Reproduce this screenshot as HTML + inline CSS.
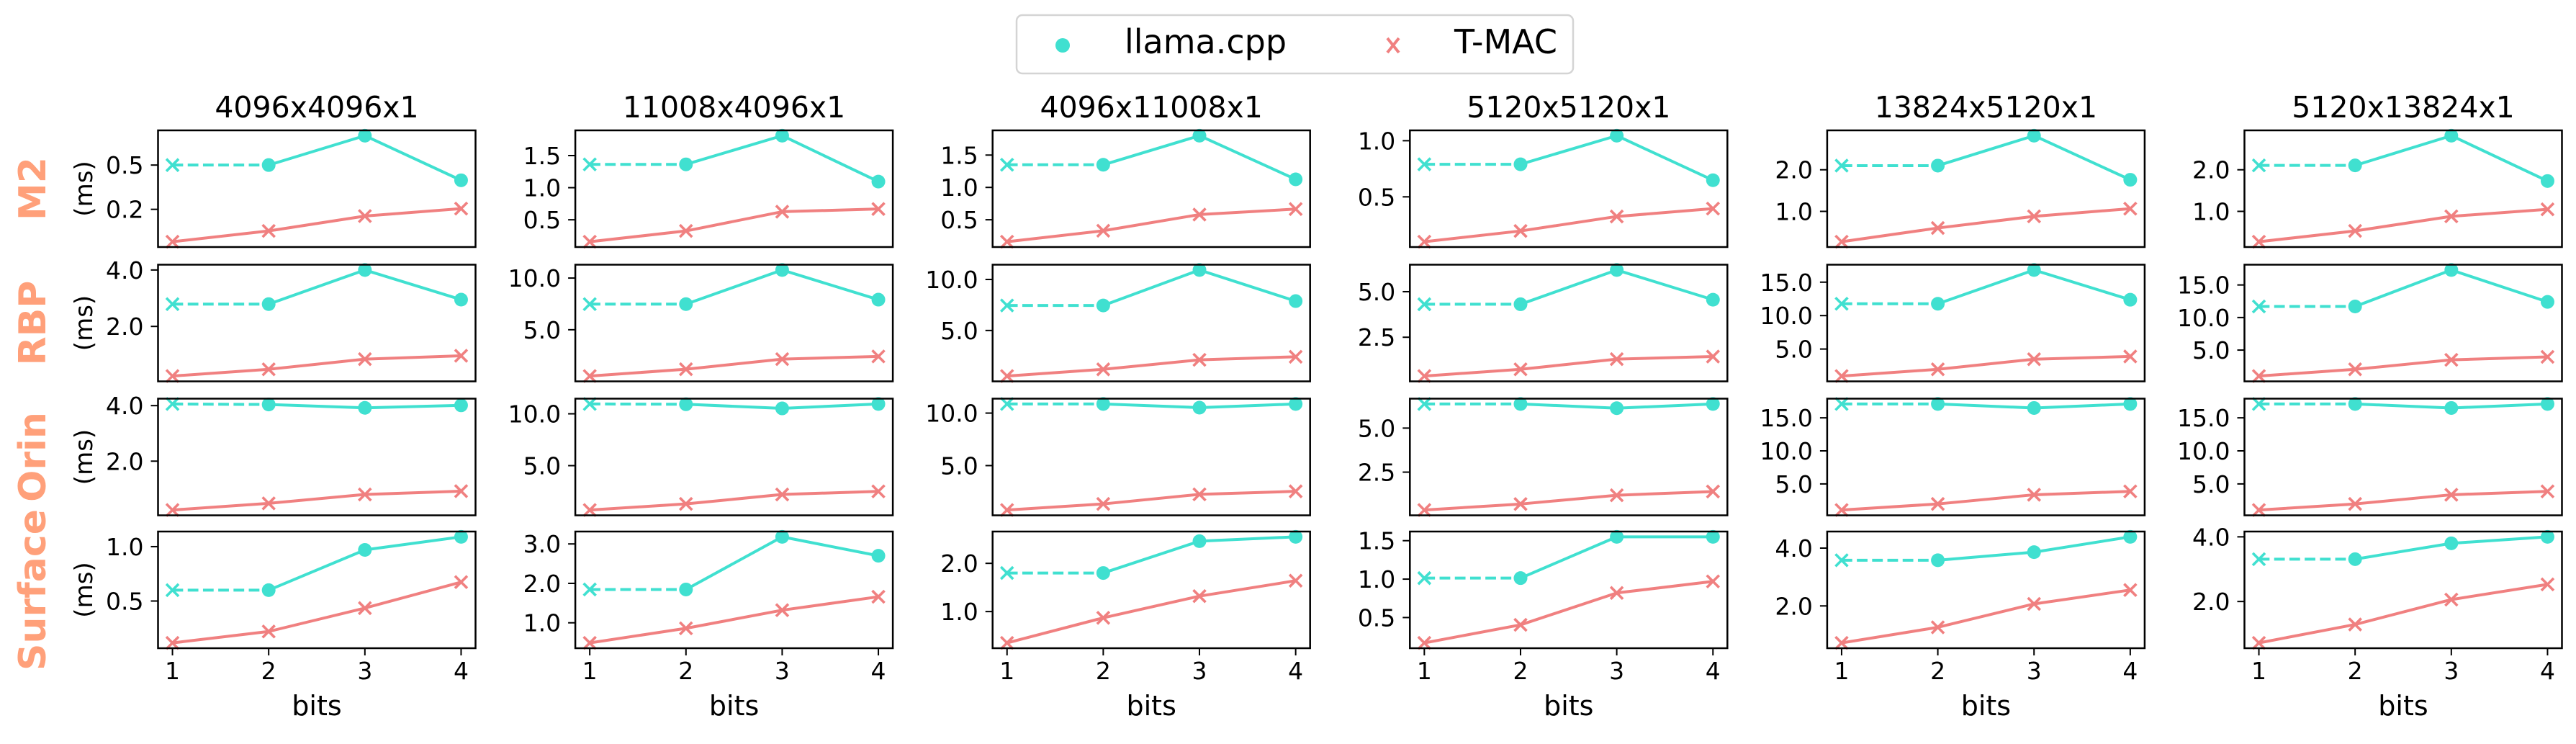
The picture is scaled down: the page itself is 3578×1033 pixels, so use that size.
<!DOCTYPE html>
<html><head><meta charset="utf-8">
<style>
html,body{margin:0;padding:0;background:#fff;}
svg{display:block;font-family:"DejaVu Sans","Liberation Sans",sans-serif;}
</style></head>
<body>
<svg id="fig" width="3578" height="1033" viewBox="0 0 3578 1033" xmlns="http://www.w3.org/2000/svg">
<rect width="3578" height="1033" fill="#fff"/>
<g>
<rect x="1412" y="21" width="773" height="81" rx="8" fill="#fff" stroke="#d4d4d4" stroke-width="2.5"/>
<circle cx="1476" cy="63" r="10" fill="#40E0D0"/>
<text x="1562" y="74" font-size="46">llama.cpp</text>
<g stroke="#F08080" stroke-width="4"><line x1="1927" y1="53" x2="1943" y2="73"/><line x1="1943" y1="53" x2="1927" y2="73"/></g>
<text x="2020" y="74" font-size="46">T-MAC</text>
</g>
<g id="plots"></g>
</svg>
<script>
const bits = [1, 2, 3, 4];
const titles = ["4096x4096x1","11008x4096x1","4096x11008x1","5120x5120x1","13824x5120x1","5120x13824x1"];
const devices = ["M2","RBP","Orin","Surface"];
const xTicks = [1, 2, 3, 4];
const xTickLabels = ["1","2","3","4"];

const llamaM2 = [[0.5,0.5,0.666,0.414],[1.363,1.363,1.81,1.095],[1.35,1.35,1.80,1.125],[0.79,0.79,1.045,0.648],[2.10,2.10,2.82,1.76],[2.105,2.105,2.82,1.73]];
const llamaRBP = [[2.79,2.79,4.0,2.95],[7.48,7.48,10.78,7.91],[7.45,7.45,10.93,7.88],[4.31,4.31,6.19,4.56],[11.77,11.77,16.82,12.37],[11.7,11.7,17.3,12.4]];
const llamaOrin = [[4.06,4.04,3.92,4.01],[10.95,10.92,10.52,10.95],[10.87,10.87,10.52,10.87],[6.37,6.37,6.13,6.37],[17.1,17.1,16.49,17.1],[17.1,17.1,16.49,17.1]];
const llamaSurface = [[0.60,0.60,0.97,1.09],[1.845,1.845,3.18,2.70],[1.80,1.80,2.46,2.55],[1.013,1.013,1.55,1.55],[3.58,3.58,3.86,4.39],[3.31,3.31,3.8,4.0]];

const tmacM2 = [[0.067,0.128,0.212,0.254],[0.158,0.326,0.626,0.668],[0.16,0.33,0.58,0.665],[0.10,0.196,0.325,0.395],[0.27,0.60,0.88,1.065],[0.27,0.53,0.88,1.05]];
const tmacRBP = [[0.24,0.48,0.84,0.96],[0.52,1.18,2.16,2.42],[0.53,1.19,2.12,2.42],[0.37,0.74,1.30,1.44],[0.96,1.97,3.48,3.89],[1.01,2.05,3.5,3.96]];
const tmacOrin = [[0.24,0.48,0.80,0.92],[0.72,1.31,2.22,2.52],[0.77,1.35,2.26,2.55],[0.35,0.69,1.19,1.40],[1.05,1.97,3.36,3.87],[1.05,1.97,3.36,3.87]];
const tmacSurface = [[0.115,0.22,0.435,0.674],[0.49,0.86,1.32,1.66],[0.35,0.87,1.32,1.64],[0.17,0.405,0.82,0.97],[0.72,1.26,2.07,2.55],[0.72,1.29,2.06,2.53]];

const yTicksM2 = [[0.25,0.5],[0.5,1,1.5],[0.5,1,1.5],[0.5,1.0],[1,2],[1,2]];
const yTicksRBP = [[2,4],[5,10],[5,10],[2.5,5],[5,10,15],[5,10,15]];
const yTicksOrin = [[2,4],[5,10],[5,10],[2.5,5],[5,10,15],[5,10,15]];
const yTicksSurface = [[0.5,1.0],[1,2,3],[1,2],[0.5,1,1.5],[2,4],[2,4]];
const yTickLabelsM2 = [["0.2","0.5"],["0.5","1.0","1.5"],["0.5","1.0","1.5"],["0.5","1.0"],["1.0","2.0"],["1.0","2.0"]];
const yTickLabelsRBP = [["2.0","4.0"],["5.0","10.0"],["5.0","10.0"],["2.5","5.0"],["5.0","10.0","15.0"],["5.0","10.0","15.0"]];
const yTickLabelsOrin = [["2.0","4.0"],["5.0","10.0"],["5.0","10.0"],["2.5","5.0"],["5.0","10.0","15.0"],["5.0","10.0","15.0"]];
const yTickLabelsSurface = [["0.5","1.0"],["1.0","2.0","3.0"],["1.0","2.0"],["0.5","1.0","1.5"],["2.0","4.0"],["2.0","4.0"]];

const LLAMA = [llamaM2, llamaRBP, llamaOrin, llamaSurface];
const TMAC = [tmacM2, tmacRBP, tmacOrin, tmacSurface];
const YT = [yTicksM2, yTicksRBP, yTicksOrin, yTicksSurface];
const YTL = [yTickLabelsM2, yTickLabelsRBP, yTickLabelsOrin, yTickLabelsSurface];

const NS = "http://www.w3.org/2000/svg";
const root = document.getElementById("plots");
function mk(tag, attrs, parent) {
  const e = document.createElementNS(NS, tag);
  for (const k in attrs) e.setAttribute(k, attrs[k]);
  (parent || root).appendChild(e);
  return e;
}
const AX_W = 441, AX_H = 162;
const rowTops = [181, 367.5, 553.5, 738];
const CYAN = "#40E0D0", CORAL = "#F08080";

function xMarker(g, x, y, color, name) {
  const m = mk("g", {stroke: color, "stroke-width": 3.6}, g);
  
  
  mk("line", {x1: x-8.5, y1: y-8.5, x2: x+8.5, y2: y+8.5}, m);
  mk("line", {x1: x+8.5, y1: y-8.5, x2: x-8.5, y2: y+8.5}, m);
}

for (let c = 0; c < 6; c++) {
  const left = 219.5 + c * 579.6;
  const xScale = v => left + AX_W * (v - 0.85) / 3.3;
  const t = mk("text", {x: left + AX_W/2, y: 163, "font-size": 41, "text-anchor": "middle"});
  
  
  t.textContent = titles[c];
  for (let r = 0; r < 4; r++) {
    const top = rowTops[r];
    const L = LLAMA[r][c], T = TMAC[r][c];
    const all = L.concat(T);
    const mn = Math.min(...all), mx = Math.max(...all);
    const pad = (mx - mn) * 0.05;
    const y0 = mn - pad, y1 = mx + pad;
    const yScale = v => top + AX_H * (y1 - v) / (y1 - y0);
    const g = mk("g", {});
    
    
    // ticks
    YT[r][c].forEach((tv, i) => {
      const y = yScale(tv);
      const tk = mk("line", {x1: left - 10, x2: left, y1: y, y2: y, stroke: "#000", "stroke-width": 2}, g);
      
      
      const tl = mk("text", {x: left - 20, y: y + 12, "font-size": 33, "text-anchor": "end"}, g);
      
      
      tl.textContent = YTL[r][c][i];
    });
    if (r === 3) {
      xTicks.forEach((xv, i) => {
        const x = xScale(xv);
        const tk = mk("line", {x1: x, x2: x, y1: top + AX_H, y2: top + AX_H + 10, stroke: "#000", "stroke-width": 2}, g);
        
        
        const tl = mk("text", {x: x, y: 943, "font-size": 33, "text-anchor": "middle"}, g);
        
        
        tl.textContent = xTickLabels[i];
      });
      const xl = mk("text", {x: left + AX_W/2, y: 993, "font-size": 38, "text-anchor": "middle"}, g);
      
      
      xl.textContent = "bits";
    }
    if (c === 0) {
      const cy = top + AX_H/2;
      const yl = mk("text", {x: 0, y: 0, "font-size": 34, "text-anchor": "middle", transform: `translate(128,${cy}) rotate(-90)`}, g);
      
      
      yl.textContent = "(ms)";
      const dl = mk("text", {x: 0, y: 0, "font-size": 52, "font-weight": "bold", fill: "#FFA07A", "text-anchor": "middle", transform: `translate(63,${cy}) rotate(-90)`}, g);
      
      
      dl.textContent = devices[r];
    }
    // clip
    const cid = `clip${r}_${c}`;
    const cp = mk("clipPath", {id: cid}, g);
    mk("rect", {x: left - 12, y: top - 12, width: AX_W + 24, height: AX_H + 24}, cp);
    const pg = mk("g", {"clip-path": `url(#${cid})`}, g);
    // llama dashed segment
    const d1 = mk("line", {x1: xScale(bits[0]), y1: yScale(L[0]), x2: xScale(bits[1]), y2: yScale(L[1]), stroke: CYAN, "stroke-width": 4, "stroke-dasharray": "14.8 6.4"}, pg);
    
    
    const lp = bits.slice(1).map((b, i) => `${xScale(b)},${yScale(L[i+1])}`).join(" ");
    const ll = mk("polyline", {points: lp, fill: "none", stroke: CYAN, "stroke-width": 4, "stroke-linejoin": "round"}, pg);
    
    
    xMarker(pg, xScale(bits[0]), yScale(L[0]), CYAN, 'llama-point-1');
    for (let i = 1; i < 4; i++) {
      const p = mk("circle", {cx: xScale(bits[i]), cy: yScale(L[i]), r: 9.5, fill: CYAN}, pg);
      
      
    }
    const tp = bits.map((b, i) => `${xScale(b)},${yScale(T[i])}`).join(" ");
    const tl = mk("polyline", {points: tp, fill: "none", stroke: CORAL, "stroke-width": 4, "stroke-linejoin": "round"}, pg);
    
    
    for (let i = 0; i < 4; i++) xMarker(pg, xScale(bits[i]), yScale(T[i]), CORAL, 'tmac-point-' + (i+1));
    // frame
    const fr = mk("rect", {x: left, y: top, width: AX_W, height: AX_H, fill: "none", stroke: "#000", "stroke-width": 2.5}, g);
    
    
  }
}
</script>
</body></html>
